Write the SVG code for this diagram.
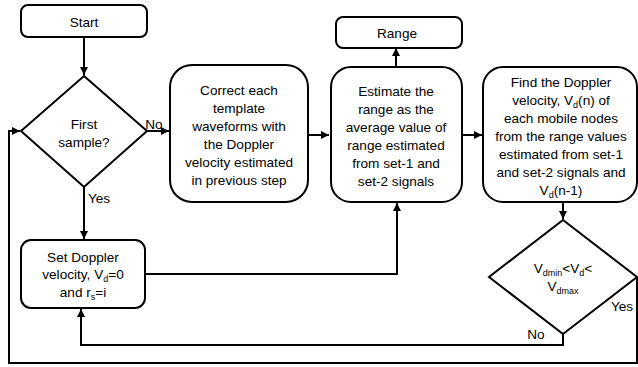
<svg xmlns="http://www.w3.org/2000/svg" width="638" height="367" viewBox="0 0 638 367">
<defs>
<style>
.box{fill:#fff;stroke:#000;stroke-width:2}
.t{font-family:"Liberation Sans",Arial,sans-serif;font-size:13.6px;fill:#000;text-anchor:middle}
.c{fill:none;stroke:#000;stroke-width:2}
.sub{font-size:9px}
</style>
<marker id="ah" markerUnits="userSpaceOnUse" markerWidth="9" markerHeight="8" refX="8" refY="4" orient="auto">
<path d="M0,0 L8,4 L0,8 z" fill="#000"/>
</marker>
</defs>
<rect width="638" height="367" fill="#fff"/>
<g id="connectors">
<path class="c" d="M84,37 V75" marker-end="url(#ah)"/>
<path class="c" d="M147,131 H169" marker-end="url(#ah)"/>
<path class="c" d="M308,135 H329" marker-end="url(#ah)"/>
<path class="c" d="M396,67 V48" marker-end="url(#ah)"/>
<path class="c" d="M462,135 H482" marker-end="url(#ah)"/>
<path class="c" d="M563,202 V219" marker-end="url(#ah)"/>
<path class="c" d="M84,187 V239" marker-end="url(#ah)"/>
<path class="c" d="M145,274 H397 V203" marker-end="url(#ah)"/>
<path class="c" d="M563,334 V345 H81 V309" marker-end="url(#ah)"/>
<path class="c" d="M637,277 V363 H9 V131 H20" marker-end="url(#ah)"/>
<text class="t" x="154" y="129">No</text>
<text class="t" x="99" y="203">Yes</text>
<text class="t" x="622" y="311">Yes</text>
<text class="t" x="536" y="339">No</text>
</g>
<g id="start">
<rect class="box" x="21" y="5" width="126" height="32" rx="7"/>
<text class="t" x="84" y="27">Start</text>
</g>
<g id="first-sample">
<polygon class="box" points="84,76 147,131 84,187 21,131"/>
<text class="t"><tspan x="84" y="129">First</tspan><tspan x="84" y="147">sample?</tspan></text>
</g>
<g id="correct">
<rect class="box" x="170" y="65" width="138" height="137" rx="22"/>
<text class="t"><tspan x="239" y="95">Correct each</tspan><tspan x="239" y="113">template</tspan><tspan x="239" y="131">waveforms with</tspan><tspan x="239" y="149">the Doppler</tspan><tspan x="239" y="167">velocity estimated</tspan><tspan x="239" y="185">in previous step</tspan></text>
</g>
<g id="range">
<rect class="box" x="336" y="17" width="126" height="31" rx="7"/>
<text class="t" x="397" y="38">Range</text>
</g>
<g id="estimate">
<rect class="box" x="331" y="67" width="131" height="135" rx="20"/>
<text class="t"><tspan x="396" y="96">Estimate the</tspan><tspan x="396" y="114">range as the</tspan><tspan x="396" y="132">average value of</tspan><tspan x="396" y="150">range estimated</tspan><tspan x="396" y="168">from set-1 and</tspan><tspan x="396" y="186">set-2 signals</tspan></text>
</g>
<g id="find">
<rect class="box" x="483" y="67" width="154" height="135" rx="20"/>
<text class="t"><tspan x="561" y="87">Find the Doppler</tspan><tspan x="561" y="105">velocity,  V<tspan class="sub" dy="3">d</tspan><tspan dy="-3">(n) of</tspan></tspan><tspan x="561" y="123">each mobile nodes</tspan><tspan x="561" y="141">from the range values</tspan><tspan x="561" y="159">estimated from set-1</tspan><tspan x="561" y="177">and set-2 signals and</tspan><tspan x="561" y="195">V<tspan class="sub" dy="3">d</tspan><tspan dy="-3">(n-1)</tspan></tspan></text>
</g>
<g id="set-doppler">
<rect class="box" x="21" y="240" width="124" height="68" rx="10"/>
<text class="t"><tspan x="83" y="262">Set Doppler</tspan><tspan x="83" y="279">velocity, V<tspan class="sub" dy="3">d</tspan><tspan dy="-3">=0</tspan></tspan><tspan x="83" y="297">and r<tspan class="sub" dy="3">s</tspan><tspan dy="-3">=i</tspan></tspan></text>
</g>
<g id="vd-check">
<polygon class="box" points="563,220 637,277 563,334 489,277"/>
<text class="t"><tspan x="563" y="273">V<tspan class="sub" dy="3">dmin</tspan><tspan dy="-3">&lt;V</tspan><tspan class="sub" dy="3">d</tspan><tspan dy="-3">&lt;</tspan></tspan><tspan x="563" y="291">V<tspan class="sub" dy="3">dmax</tspan></tspan></text>
</g>
</svg>
